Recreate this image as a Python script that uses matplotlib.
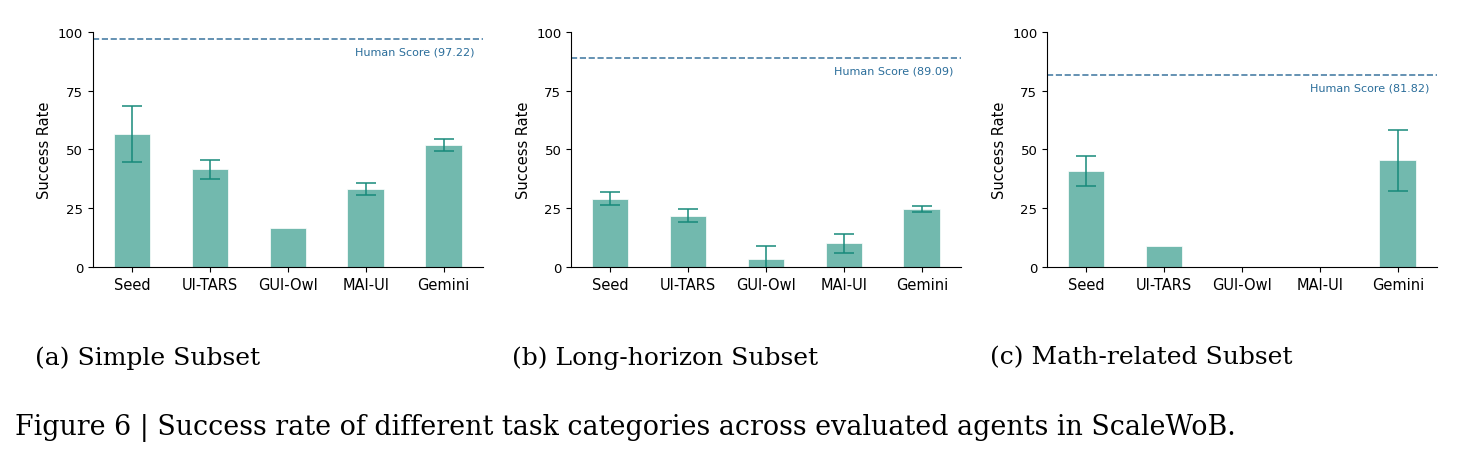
import numpy as np
import matplotlib.pyplot as plt

agents = ["Seed", "UI-TARS", "GUI-Owl", "MAI-UI", "Gemini"]

simple_mean = [56.6, 41.6, 16.7, 33.3, 51.9]
simple_err = [11.8, 4.0, 0.0, 2.6, 2.6]

long_mean = [29.1, 21.8, 3.6, 10.0, 24.5]
long_err = [2.7, 2.7, 5.2, 3.9, 1.3]

math_mean = [40.9, 9.1, 0.0, 0.0, 45.4]
math_err = [6.4, 0.0, 0.0, 0.0, 13.0]

human_scores = [97.22, 89.09, 81.82]
subplot_titles = ["(a) Simple Subset", "(b) Long-horizon Subset", "(c) Math-related Subset"]
caption = "Figure 6 | Success rate of different task categories across evaluated agents in ScaleWoB."

bar_color = "#72b9ae"
err_color = "#178a7b"
human_color = "#4a7fa6"

fig = plt.figure(figsize=(14.65, 4.6), dpi=100)
lefts = [0.0635, 0.3898, 0.7147]
caption_x = [35, 512, 990]

panels = [(simple_mean, simple_err), (long_mean, long_err), (math_mean, math_err)]
x = np.arange(len(agents))

for i, (means, errs) in enumerate(panels):
    ax = fig.add_axes([lefts[i], 0.4174, 0.266, 0.5109])
    ax.bar(x, means, width=0.47, color=bar_color, edgecolor="white", linewidth=0.5, zorder=2)
    e = np.array(errs)
    mask = e > 0
    ax.errorbar(x[mask], np.array(means)[mask], yerr=e[mask], fmt="none",
                ecolor=err_color, elinewidth=1.1, capsize=7, capthick=1.1, zorder=3)
    ax.axhline(human_scores[i], color=human_color, linestyle="--", linewidth=1.2, zorder=1)
    ax.text(4.4, human_scores[i] - 3.2, f"Human Score ({human_scores[i]:.2f})",
            color="#2a6d9a", fontsize=8, ha="right", va="top")
    ax.set_xlim(-0.5, 4.5)
    ax.set_ylim(0, 100)
    ax.set_yticks([0, 25, 50, 75, 100])
    ax.set_xticks(x)
    ax.set_xticklabels(agents, fontsize=10.5)
    ax.tick_params(axis="y", labelsize=9.5)
    ax.set_ylabel("Success Rate", fontsize=10.5)
    ax.spines["top"].set_visible(False)
    ax.spines["right"].set_visible(False)
    fig.text(caption_x[i] / 1465, 1 - 358 / 460, subplot_titles[i],
             family="DejaVu Serif", fontsize=18, ha="left", va="center")

fig.text(15 / 1465, 1 - 428 / 460, caption, family="DejaVu Serif", fontsize=19.4,
         ha="left", va="center")

fig.savefig("out.png", dpi=100)
